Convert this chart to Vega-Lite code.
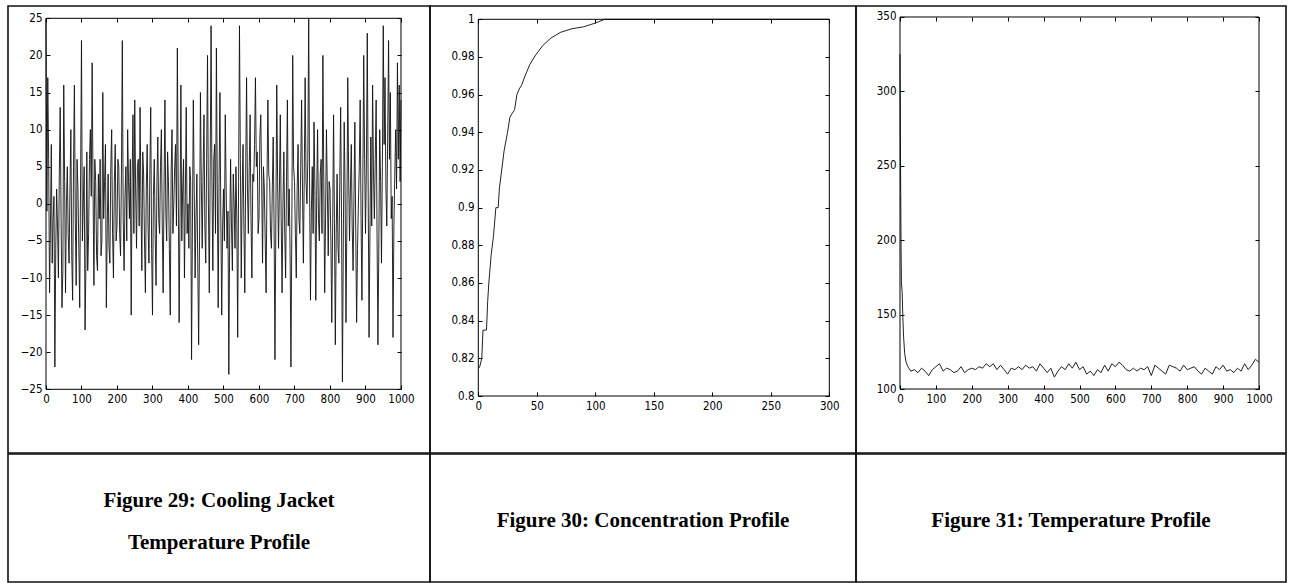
{
  "$schema": "https://vega.github.io/schema/vega-lite/v6.json",
  "background": "white",
  "padding": {"left": 7, "top": 5, "right": 0, "bottom": 0},
  "spacing": -1.6,
  "config": {
    "view": {"stroke": "#111", "strokeWidth": 1.6},
    "axis": {"grid": false, "domain": false, "title": null, "labelFont": "Liberation Sans Narrow, DejaVu Sans Condensed, Liberation Sans, sans-serif", "labelFontSize": 11.5, "labelColor": "#000", "tickColor": "#000", "tickSize": -4, "labelPadding": 8, "labelFlush": false, "labelOverlap": false}
  },
  "vconcat": [
    {
      "spacing": 0,
      "bounds": "flush",
      "hconcat": [
        {
          "width": 422, "height": 447,
          "data": {"values": [
            {"t":0,"v":25},{"t":2.5,"v":-1},{"t":5,"v":17},{"t":7.5,"v":6},{"t":10,"v":-12},{"t":12.5,"v":-3},{"t":15,"v":8},{"t":17.5,"v":-8},{"t":20,"v":-2},{"t":22.5,"v":1},
            {"t":25,"v":-22},{"t":27.5,"v":-6},{"t":30,"v":2},{"t":32.5,"v":-3},{"t":35,"v":-10},{"t":37.5,"v":4},{"t":40,"v":13},{"t":42.5,"v":-2},{"t":45,"v":-14},{"t":47.5,"v":-9},
            {"t":50,"v":16},{"t":52.5,"v":3},{"t":55,"v":-12},{"t":57.5,"v":0},{"t":60,"v":5},{"t":62.5,"v":-4},{"t":65,"v":-8},{"t":67.5,"v":2},{"t":70,"v":10},{"t":72.5,"v":-7},
            {"t":75,"v":-13},{"t":77.5,"v":5},{"t":80,"v":16},{"t":82.5,"v":-2},{"t":85,"v":-11},{"t":87.5,"v":6},{"t":90,"v":2},{"t":92.5,"v":-6},{"t":95,"v":-14},{"t":97.5,"v":4},
            {"t":100,"v":22},{"t":102.5,"v":-5},{"t":105,"v":0},{"t":107.5,"v":5},{"t":110,"v":-17},{"t":112.5,"v":-8},{"t":115,"v":7},{"t":117.5,"v":-9},{"t":120,"v":-4},{"t":122.5,"v":6},
            {"t":125,"v":10},{"t":127.5,"v":1},{"t":130,"v":19},{"t":132.5,"v":2},{"t":135,"v":-11},{"t":137.5,"v":6},{"t":140,"v":3},{"t":142.5,"v":-7},{"t":145,"v":-9},{"t":147.5,"v":4},
            {"t":150,"v":-2},{"t":152.5,"v":6},{"t":155,"v":-7},{"t":157.5,"v":-5},{"t":160,"v":15},{"t":162.5,"v":-2},{"t":165,"v":3},{"t":167.5,"v":8},{"t":170,"v":-14},{"t":172.5,"v":-3},
            {"t":175,"v":4},{"t":177.5,"v":-6},{"t":180,"v":-8},{"t":182.5,"v":5},{"t":185,"v":10},{"t":187.5,"v":-4},{"t":190,"v":-10},{"t":192.5,"v":3},{"t":195,"v":8},{"t":197.5,"v":-5},
            {"t":200,"v":-3},{"t":202.5,"v":6},{"t":205,"v":5},{"t":207.5,"v":-4},{"t":210,"v":-7},{"t":212.5,"v":4},{"t":215,"v":22},{"t":217.5,"v":-2},{"t":220,"v":-9},{"t":222.5,"v":1},
            {"t":225,"v":5},{"t":227.5,"v":-5},{"t":230,"v":10},{"t":232.5,"v":3},{"t":235,"v":-2},{"t":237.5,"v":6},{"t":240,"v":-15},{"t":242.5,"v":3},{"t":245,"v":12},{"t":247.5,"v":-4},
            {"t":250,"v":14},{"t":252.5,"v":2},{"t":255,"v":-6},{"t":257.5,"v":5},{"t":260,"v":6},{"t":262.5,"v":-3},{"t":265,"v":13},{"t":267.5,"v":0},{"t":270,"v":-9},{"t":272.5,"v":7},
            {"t":275,"v":4},{"t":277.5,"v":-5},{"t":280,"v":-12},{"t":282.5,"v":2},{"t":285,"v":8},{"t":287.5,"v":-3},{"t":290,"v":-8},{"t":292.5,"v":4},{"t":295,"v":13},{"t":297.5,"v":-6},
            {"t":300,"v":-15},{"t":302.5,"v":1},{"t":305,"v":6},{"t":307.5,"v":-4},{"t":310,"v":-11},{"t":312.5,"v":3},{"t":315,"v":9},{"t":317.5,"v":-2},{"t":320,"v":-4},{"t":322.5,"v":5},
            {"t":325,"v":10},{"t":327.5,"v":-3},{"t":330,"v":-12},{"t":332.5,"v":2},{"t":335,"v":14},{"t":337.5,"v":-1},{"t":340,"v":-5},{"t":342.5,"v":7},{"t":345,"v":3},{"t":347.5,"v":-6},
            {"t":350,"v":-15},{"t":352.5,"v":4},{"t":355,"v":10},{"t":357.5,"v":-4},{"t":360,"v":0},{"t":362.5,"v":5},{"t":365,"v":8},{"t":367.5,"v":-3},{"t":370,"v":21},{"t":372.5,"v":2},
            {"t":375,"v":-16},{"t":377.5,"v":-2},{"t":380,"v":16},{"t":382.5,"v":-5},{"t":385,"v":2},{"t":387.5,"v":6},{"t":390,"v":-10},{"t":392.5,"v":1},{"t":395,"v":13},{"t":397.5,"v":-4},
            {"t":400,"v":0},{"t":402.5,"v":-6},{"t":405,"v":5},{"t":407.5,"v":3},{"t":410,"v":-21},{"t":412.5,"v":-3},{"t":415,"v":14},{"t":417.5,"v":2},{"t":420,"v":-10},{"t":422.5,"v":-2},
            {"t":425,"v":4},{"t":427.5,"v":-8},{"t":430,"v":-19},{"t":432.5,"v":-5},{"t":435,"v":15},{"t":437.5,"v":3},{"t":440,"v":-6},{"t":442.5,"v":4},{"t":445,"v":12},{"t":447.5,"v":-3},
            {"t":450,"v":-8},{"t":452.5,"v":6},{"t":455,"v":20},{"t":457.5,"v":0},{"t":460,"v":-12},{"t":462.5,"v":5},{"t":465,"v":24},{"t":467.5,"v":3},{"t":470,"v":-9},{"t":472.5,"v":6},
            {"t":475,"v":8},{"t":477.5,"v":-4},{"t":480,"v":21},{"t":482.5,"v":2},{"t":485,"v":-14},{"t":487.5,"v":3},{"t":490,"v":15},{"t":492.5,"v":-2},{"t":495,"v":-15},{"t":497.5,"v":-3},
            {"t":500,"v":2},{"t":502.5,"v":-5},{"t":505,"v":12},{"t":507.5,"v":2},{"t":510,"v":-6},{"t":512.5,"v":-1},{"t":515,"v":-23},{"t":517.5,"v":-4},{"t":520,"v":6},{"t":522.5,"v":-3},
            {"t":525,"v":-9},{"t":527.5,"v":4},{"t":530,"v":0},{"t":532.5,"v":-6},{"t":535,"v":5},{"t":537.5,"v":-2},{"t":540,"v":-18},{"t":542.5,"v":3},{"t":545,"v":24},{"t":547.5,"v":6},
            {"t":550,"v":-10},{"t":552.5,"v":1},{"t":555,"v":8},{"t":557.5,"v":-3},{"t":560,"v":-12},{"t":562.5,"v":4},{"t":565,"v":17},{"t":567.5,"v":2},{"t":570,"v":-4},{"t":572.5,"v":5},
            {"t":575,"v":12},{"t":577.5,"v":-2},{"t":580,"v":-10},{"t":582.5,"v":4},{"t":585,"v":3},{"t":587.5,"v":8},{"t":590,"v":17},{"t":592.5,"v":5},{"t":595,"v":7},{"t":597.5,"v":-4},
            {"t":600,"v":-2},{"t":602.5,"v":9},{"t":605,"v":12},{"t":607.5,"v":3},{"t":610,"v":-8},{"t":612.5,"v":5},{"t":615,"v":2},{"t":617.5,"v":-5},{"t":620,"v":-12},{"t":622.5,"v":3},
            {"t":625,"v":14},{"t":627.5,"v":4},{"t":630,"v":3},{"t":632.5,"v":-4},{"t":635,"v":-6},{"t":637.5,"v":2},{"t":640,"v":9},{"t":642.5,"v":-3},{"t":645,"v":-21},{"t":647.5,"v":-2},
            {"t":650,"v":16},{"t":652.5,"v":3},{"t":655,"v":-6},{"t":657.5,"v":2},{"t":660,"v":12},{"t":662.5,"v":-2},{"t":665,"v":-12},{"t":667.5,"v":0},{"t":670,"v":7},{"t":672.5,"v":-4},
            {"t":675,"v":-10},{"t":677.5,"v":3},{"t":680,"v":14},{"t":682.5,"v":-3},{"t":685,"v":2},{"t":687.5,"v":-6},{"t":690,"v":-22},{"t":692.5,"v":-3},{"t":695,"v":20},{"t":697.5,"v":5},
            {"t":700,"v":3},{"t":702.5,"v":-4},{"t":705,"v":-10},{"t":707.5,"v":2},{"t":710,"v":8},{"t":712.5,"v":-2},{"t":715,"v":-4},{"t":717.5,"v":5},{"t":720,"v":14},{"t":722.5,"v":2},
            {"t":725,"v":-8},{"t":727.5,"v":4},{"t":730,"v":17},{"t":732.5,"v":3},{"t":735,"v":0},{"t":737.5,"v":6},{"t":740,"v":25},{"t":742.5,"v":2},{"t":745,"v":-13},{"t":747.5,"v":-1},
            {"t":750,"v":5},{"t":752.5,"v":-4},{"t":755,"v":11},{"t":757.5,"v":2},{"t":760,"v":-13},{"t":762.5,"v":1},{"t":765,"v":10},{"t":767.5,"v":-2},{"t":770,"v":-5},{"t":772.5,"v":4},
            {"t":775,"v":6},{"t":777.5,"v":-4},{"t":780,"v":20},{"t":782.5,"v":3},{"t":785,"v":-12},{"t":787.5,"v":-2},{"t":790,"v":10},{"t":792.5,"v":2},{"t":795,"v":-7},{"t":797.5,"v":3},
            {"t":800,"v":2},{"t":802.5,"v":-5},{"t":805,"v":-16},{"t":807.5,"v":-3},{"t":810,"v":12},{"t":812.5,"v":-2},{"t":815,"v":-19},{"t":817.5,"v":-4},{"t":820,"v":4},{"t":822.5,"v":-6},
            {"t":825,"v":-8},{"t":827.5,"v":3},{"t":830,"v":13},{"t":832.5,"v":-2},{"t":835,"v":-24},{"t":837.5,"v":-5},{"t":840,"v":11},{"t":842.5,"v":2},{"t":845,"v":-16},{"t":847.5,"v":-3},
            {"t":850,"v":17},{"t":852.5,"v":4},{"t":855,"v":-5},{"t":857.5,"v":2},{"t":860,"v":8},{"t":862.5,"v":-3},{"t":865,"v":-9},{"t":867.5,"v":1},{"t":870,"v":11},{"t":872.5,"v":-4},
            {"t":875,"v":-16},{"t":877.5,"v":-6},{"t":880,"v":0},{"t":882.5,"v":5},{"t":885,"v":14},{"t":887.5,"v":-2},{"t":890,"v":-13},{"t":892.5,"v":3},{"t":895,"v":20},{"t":897.5,"v":6},
            {"t":900,"v":-4},{"t":902.5,"v":5},{"t":905,"v":23},{"t":907.5,"v":2},{"t":910,"v":-18},{"t":912.5,"v":-4},{"t":915,"v":9},{"t":917.5,"v":-3},{"t":920,"v":16},{"t":922.5,"v":4},
            {"t":925,"v":-2},{"t":927.5,"v":6},{"t":930,"v":14},{"t":932.5,"v":-4},{"t":935,"v":-19},{"t":937.5,"v":-6},{"t":940,"v":10},{"t":942.5,"v":3},{"t":945,"v":-8},{"t":947.5,"v":5},
            {"t":950,"v":24},{"t":952.5,"v":8},{"t":955,"v":17},{"t":957.5,"v":2},{"t":960,"v":-3},{"t":962.5,"v":9},{"t":965,"v":22},{"t":967.5,"v":6},{"t":970,"v":15},{"t":972.5,"v":-2},
            {"t":975,"v":1},{"t":977.5,"v":-18},{"t":980,"v":-3},{"t":982.5,"v":4},{"t":985,"v":10},{"t":987.5,"v":2},{"t":990,"v":19},{"t":992.5,"v":6},{"t":995,"v":16},{"t":997.5,"v":3},
            {"t":1000,"v":14}
          ]},
          "layer": [
            {
              "mark": {"type": "line", "color": "#111", "strokeWidth": 0.9},
              "encoding": {
                "x": {"field": "t", "type": "quantitative", "scale": {"domain": [-107.04, 1081.69], "nice": false, "zero": false},
                      "axis": {"orient": "bottom", "offset": -64, "format": "d", "values": [0,100,200,300,400,500,600,700,800,900,1000]}},
                "y": {"field": "v", "type": "quantitative", "scale": {"domain": [-33.585, 26.658], "nice": false, "zero": false},
                      "axis": {"orient": "left", "offset": -38, "values": [-25,-20,-15,-10,-5,0,5,10,15,20,25]}}
              }
            },
            {
              "data": {"values": [{}]},
              "mark": {"type": "rect", "filled": false, "stroke": "#000", "strokeWidth": 1},
              "encoding": {
                "x": {"datum": 0, "type": "quantitative", "axis": {"orient": "top", "offset": -12, "labels": false, "values": [0,100,200,300,400,500,600,700,800,900,1000]}},
                "x2": {"datum": 1000},
                "y": {"datum": -25, "type": "quantitative", "axis": {"orient": "right", "offset": -29, "labels": false, "values": [-25,-20,-15,-10,-5,0,5,10,15,20,25]}},
                "y2": {"datum": 25}
              }
            }
          ],
          "resolve": {"axis": {"x": "independent", "y": "independent"}}
        },
        {
          "width": 426, "height": 447,
          "data": {"values": [
            {"t":1,"v":0.815},{"t":3,"v":0.82},{"t":4,"v":0.835},{"t":7,"v":0.835},{"t":8,"v":0.85},{"t":9,"v":0.86},{"t":11,"v":0.875},{"t":13,"v":0.885},
            {"t":15,"v":0.9},{"t":17,"v":0.9},{"t":18,"v":0.91},{"t":20,"v":0.92},{"t":22,"v":0.93},{"t":25,"v":0.94},{"t":27,"v":0.948},{"t":29,"v":0.95},
            {"t":31,"v":0.952},{"t":33,"v":0.96},{"t":35,"v":0.963},{"t":37,"v":0.965},{"t":40,"v":0.97},{"t":44,"v":0.976},{"t":49,"v":0.981},{"t":55,"v":0.986},
            {"t":62,"v":0.99},{"t":70,"v":0.993},{"t":80,"v":0.995},{"t":90,"v":0.996},{"t":100,"v":0.998},{"t":108,"v":1.0},{"t":130,"v":1.0},{"t":200,"v":1.0},{"t":300,"v":1.0}
          ]},
          "layer": [
            {
              "mark": {"type": "line", "color": "#222", "strokeWidth": 1},
              "encoding": {
                "x": {"field": "t", "type": "quantitative", "scale": {"domain": [-41.28, 322.82], "nice": false, "zero": false},
                      "axis": {"orient": "bottom", "offset": -57, "values": [0,50,100,150,200,250,300]}},
                "y": {"field": "v", "type": "quantitative", "scale": {"domain": [0.76974, 1.00706], "nice": false, "zero": false},
                      "axis": {"orient": "left", "offset": -48, "format": "~g", "values": [0.8,0.82,0.84,0.86,0.88,0.9,0.92,0.94,0.96,0.98,1]}}
              }
            },
            {
              "data": {"values": [{}]},
              "mark": {"type": "rect", "filled": false, "stroke": "#000", "strokeWidth": 1},
              "encoding": {
                "x": {"datum": 0, "type": "quantitative", "axis": {"orient": "top", "offset": -13, "labels": false, "values": [0,50,100,150,200,250,300]}},
                "x2": {"datum": 300},
                "y": {"datum": 0.8, "type": "quantitative", "axis": {"orient": "right", "offset": -27, "labels": false, "values": [0.8,0.82,0.84,0.86,0.88,0.9,0.92,0.94,0.96,0.98,1]}},
                "y2": {"datum": 1}
              }
            }
          ],
          "resolve": {"axis": {"x": "independent", "y": "independent"}}
        },
        {
          "width": 430, "height": 447,
          "data": {"values": [
            {"t":0,"v":325},{"t":1,"v":270},{"t":2,"v":232},{"t":3,"v":195},{"t":4,"v":172},{"t":6,"v":165},{"t":8,"v":148},{"t":10,"v":135},{"t":13,"v":124},{"t":17,"v":118},{"t":22,"v":115},{"t":30,"v":112},
            {"t":40,"v":113},{"t":50,"v":111},{"t":60,"v":114},{"t":70,"v":112},{"t":80,"v":109},{"t":90,"v":113},{"t":100,"v":115},{"t":110,"v":117},{"t":120,"v":112},{"t":130,"v":114},
            {"t":140,"v":113},{"t":150,"v":111},{"t":160,"v":112},{"t":170,"v":115},{"t":180,"v":111},{"t":190,"v":113},{"t":200,"v":114},{"t":210,"v":113},{"t":220,"v":115},{"t":230,"v":114},
            {"t":240,"v":117},{"t":250,"v":115},{"t":260,"v":117},{"t":270,"v":113},{"t":280,"v":116},{"t":290,"v":113},{"t":300,"v":110},{"t":310,"v":114},{"t":320,"v":113},{"t":330,"v":115},
            {"t":340,"v":113},{"t":350,"v":116},{"t":360,"v":114},{"t":370,"v":115},{"t":380,"v":112},{"t":390,"v":117},{"t":400,"v":114},{"t":410,"v":111},{"t":420,"v":114},{"t":430,"v":108},
            {"t":440,"v":112},{"t":450,"v":115},{"t":460,"v":113},{"t":470,"v":117},{"t":480,"v":114},{"t":490,"v":118},{"t":500,"v":113},{"t":510,"v":115},{"t":520,"v":110},{"t":530,"v":112},
            {"t":540,"v":109},{"t":550,"v":113},{"t":560,"v":111},{"t":570,"v":116},{"t":580,"v":112},{"t":590,"v":117},{"t":600,"v":115},{"t":610,"v":118},{"t":620,"v":116},{"t":630,"v":113},
            {"t":640,"v":112},{"t":650,"v":114},{"t":660,"v":112},{"t":670,"v":114},{"t":680,"v":113},{"t":690,"v":115},{"t":700,"v":109},{"t":710,"v":116},{"t":720,"v":114},{"t":730,"v":112},
            {"t":740,"v":110},{"t":750,"v":116},{"t":760,"v":115},{"t":770,"v":114},{"t":780,"v":112},{"t":790,"v":116},{"t":800,"v":113},{"t":810,"v":114},{"t":820,"v":115},{"t":830,"v":112},
            {"t":840,"v":110},{"t":850,"v":114},{"t":860,"v":112},{"t":870,"v":110},{"t":880,"v":115},{"t":890,"v":113},{"t":900,"v":116},{"t":910,"v":112},{"t":920,"v":113},{"t":930,"v":111},
            {"t":940,"v":114},{"t":950,"v":112},{"t":960,"v":117},{"t":970,"v":113},{"t":980,"v":116},{"t":990,"v":120},{"t":1000,"v":118}
          ]},
          "layer": [
            {
              "mark": {"type": "line", "color": "#222", "strokeWidth": 1},
              "encoding": {
                "x": {"field": "t", "type": "quantitative", "scale": {"domain": [-122.56, 1075.2], "nice": false, "zero": false},
                      "axis": {"orient": "bottom", "offset": -64, "format": "d", "values": [0,100,200,300,400,500,600,700,800,900,1000]}},
                "y": {"field": "v", "type": "quantitative", "scale": {"domain": [56.99, 357.39], "nice": false, "zero": false},
                      "axis": {"orient": "left", "offset": -44, "values": [100,150,200,250,300,350]}}
              }
            },
            {
              "data": {"values": [{}]},
              "mark": {"type": "rect", "filled": false, "stroke": "#000", "strokeWidth": 1},
              "encoding": {
                "x": {"datum": 0, "type": "quantitative", "axis": {"orient": "top", "offset": -11, "labels": false, "values": [0,100,200,300,400,500,600,700,800,900,1000]}},
                "x2": {"datum": 1000},
                "y": {"datum": 100, "type": "quantitative", "axis": {"orient": "right", "offset": -27, "labels": false, "values": [100,150,200,250,300,350]}},
                "y2": {"datum": 350}
              }
            }
          ],
          "resolve": {"axis": {"x": "independent", "y": "independent"}}
        }
      ]
    },
    {
      "spacing": 0,
      "bounds": "flush",
      "hconcat": [
        {
          "width": 422, "height": 128,
          "data": {"values": [{"caption": "Figure 29: Cooling Jacket\nTemperature Profile"}]},
          "mark": {"type": "text", "font": "Liberation Serif", "fontWeight": "bold", "fontSize": 21, "lineBreak": "\n", "lineHeight": 42, "dy": -17, "color": "#000"},
          "encoding": {
            "text": {"field": "caption"},
            "x": {"datum": 0.5, "type": "quantitative", "scale": {"domain": [0, 1]}, "axis": null},
            "y": {"datum": 0.5, "type": "quantitative", "scale": {"domain": [0, 1]}, "axis": null}
          }
        },
        {
          "width": 426, "height": 128,
          "data": {"values": [{"caption": "Figure 30: Concentration Profile"}]},
          "mark": {"type": "text", "font": "Liberation Serif", "fontWeight": "bold", "fontSize": 21, "dy": 3, "color": "#000"},
          "encoding": {
            "text": {"field": "caption"},
            "x": {"datum": 0.5, "type": "quantitative", "scale": {"domain": [0, 1]}, "axis": null},
            "y": {"datum": 0.5, "type": "quantitative", "scale": {"domain": [0, 1]}, "axis": null}
          }
        },
        {
          "width": 430, "height": 128,
          "data": {"values": [{"caption": "Figure 31: Temperature Profile"}]},
          "mark": {"type": "text", "font": "Liberation Serif", "fontWeight": "bold", "fontSize": 21, "dy": 3, "color": "#000"},
          "encoding": {
            "text": {"field": "caption"},
            "x": {"datum": 0.5, "type": "quantitative", "scale": {"domain": [0, 1]}, "axis": null},
            "y": {"datum": 0.5, "type": "quantitative", "scale": {"domain": [0, 1]}, "axis": null}
          }
        }
      ]
    }
  ]
}
